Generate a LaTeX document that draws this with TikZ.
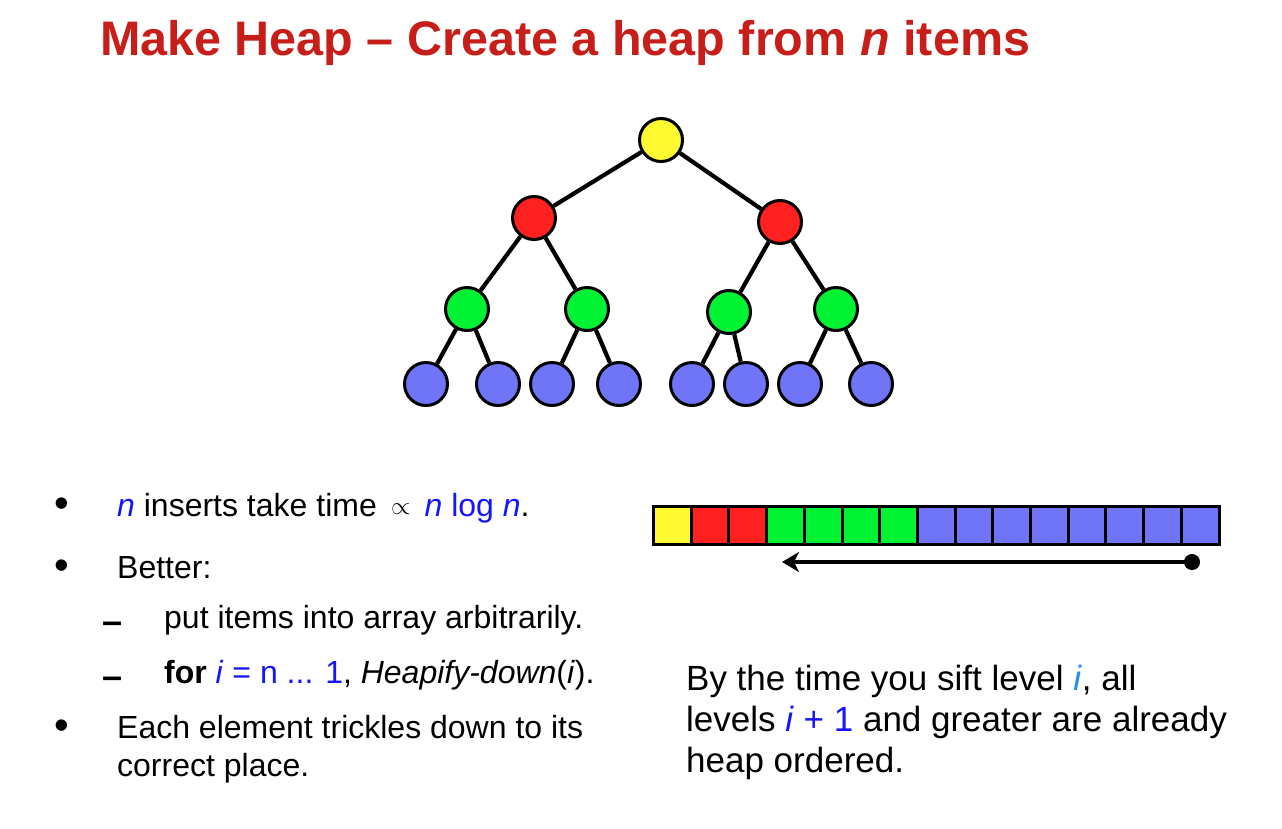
\documentclass[tikz,border=0pt]{standalone}
\usepackage{fontspec}
\setmainfont{Liberation Sans}
\usepackage{xcolor}
\usepackage{tikz}
\usetikzlibrary{positioning,arrows.meta}

\definecolor{hyellow}{RGB}{255,250,50}
\definecolor{hred}{RGB}{255,32,32}
\definecolor{hgreen}{RGB}{0,242,50}
\definecolor{hblue}{RGB}{112,117,248}
\definecolor{titlered}{RGB}{200,30,25}
\definecolor{tblue}{RGB}{20,20,255}
\definecolor{lblue}{RGB}{30,140,255}

\begin{document}
\begin{tikzpicture}[x=1pt, y=-1pt,
  hnode/.style={circle, draw, line width=3pt, minimum size=43pt, inner sep=0pt},
  edge/.style={line width=4.2pt},
  cell/.style={rectangle, draw, line width=3pt, minimum width=37.7pt,
               minimum height=38pt, inner sep=0pt},
  txt/.style={anchor=base west, inner sep=0pt, font=\fontsize{32}{38}\selectfont},
  rtxt/.style={anchor=base west, inner sep=0pt, font=\fontsize{35}{41}\selectfont},
  bul/.style={anchor=base, inner sep=0pt, font=\fontsize{42}{42}\selectfont},
  dsh/.style={anchor=base, inner sep=0pt, font=\fontsize{36}{38}\selectfont\bfseries},
]
\fill[white] (0,0) rectangle (1282,828);
\useasboundingbox (0,0) rectangle (1282,828);

% title
\node[anchor=base west, inner sep=0pt, text=titlered,
      font=\fontsize{48.5}{52}\selectfont\bfseries] (title) at (100,55)
  {Make Heap -- Create a heap from \textit{n} items};

% heap tree
\node[hnode, fill=hyellow] (root) at (661,140) {};
\node[hnode, fill=hred] (r1) at (534,218) {};
\node[hnode, fill=hred] (r2) at (780,222) {};
\node[hnode, fill=hgreen] (g1) at (467,309) {};
\node[hnode, fill=hgreen] (g2) at (587,309) {};
\node[hnode, fill=hgreen] (g3) at (729,312) {};
\node[hnode, fill=hgreen] (g4) at (836,309) {};
\foreach \x [count=\k] in {426,498,552,619,692,746,800,871}
  \node[hnode, fill=hblue] (b\k) at (\x,384) {};

\draw[edge] (root) -- (r1);
\draw[edge] (root) -- (r2);
\draw[edge] (r1) -- (g1);
\draw[edge] (r1) -- (g2);
\draw[edge] (r2) -- (g3);
\draw[edge] (r2) -- (g4);
\draw[edge] (g1) -- (b1);
\draw[edge] (g1) -- (b2);
\draw[edge] (g2) -- (b3);
\draw[edge] (g2) -- (b4);
\draw[edge] (g3) -- (b5);
\draw[edge] (g3) -- (b6);
\draw[edge] (g4) -- (b7);
\draw[edge] (g4) -- (b8);

% array
\foreach \col [count=\k] in {hyellow,hred,hred,hgreen,hgreen,hgreen,hgreen,
    hblue,hblue,hblue,hblue,hblue,hblue,hblue,hblue}
  \node[cell, fill=\col] (c\k) at ({653.5+37.7*(\k-0.5)},525) {};

\coordinate (astart) at (1200,562);
\coordinate (aend) at (782,562);
\draw[line width=3.8pt, {Circle[length=16pt]}-{Stealth[length=17pt,width=20pt,inset=5pt]}]
  (astart) -- (aend);

% left text
\node[bul] (bul1) at (62,517) {•};
\node[txt] (t1) at (117,516) {{\color{tblue}\textit{n}} inserts take time\,
  \raisebox{2pt}{\fontsize{28}{28}\selectfont$\propto$}\, {\color{tblue}\textit{n} log \textit{n}}.};
\node[bul] (bul2) at (62,579) {•};
\node[txt] (t2) at (117,578) {Better:};
\node[dsh] (dash1) at (113,633) {--};
\node[txt] (t3) at (164,628) {put items into array arbitrarily.};
\node[dsh] (dash2) at (113,688) {--};
\node[txt] (t4) at (164,683) {\textbf{for} {\color{tblue}\textit{i} = n ... 1},
  \textit{Heapify-down}(\textit{i}).};
\node[bul] (bul3) at (62,739) {•};
\node[txt] (t5) at (117,738) {Each element trickles down to its};
\node[txt] (t6) at (117,776) {correct place.};

% right text
\node[rtxt] (s1) at (686,690) {By the time you sift level {\color{lblue}\textit{i}}, all};
\node[rtxt] (s2) at (686,731) {levels {\color{tblue}\textit{i} + 1} and greater are already};
\node[rtxt] (s3) at (686,772) {heap ordered.};
\end{tikzpicture}
\end{document}
